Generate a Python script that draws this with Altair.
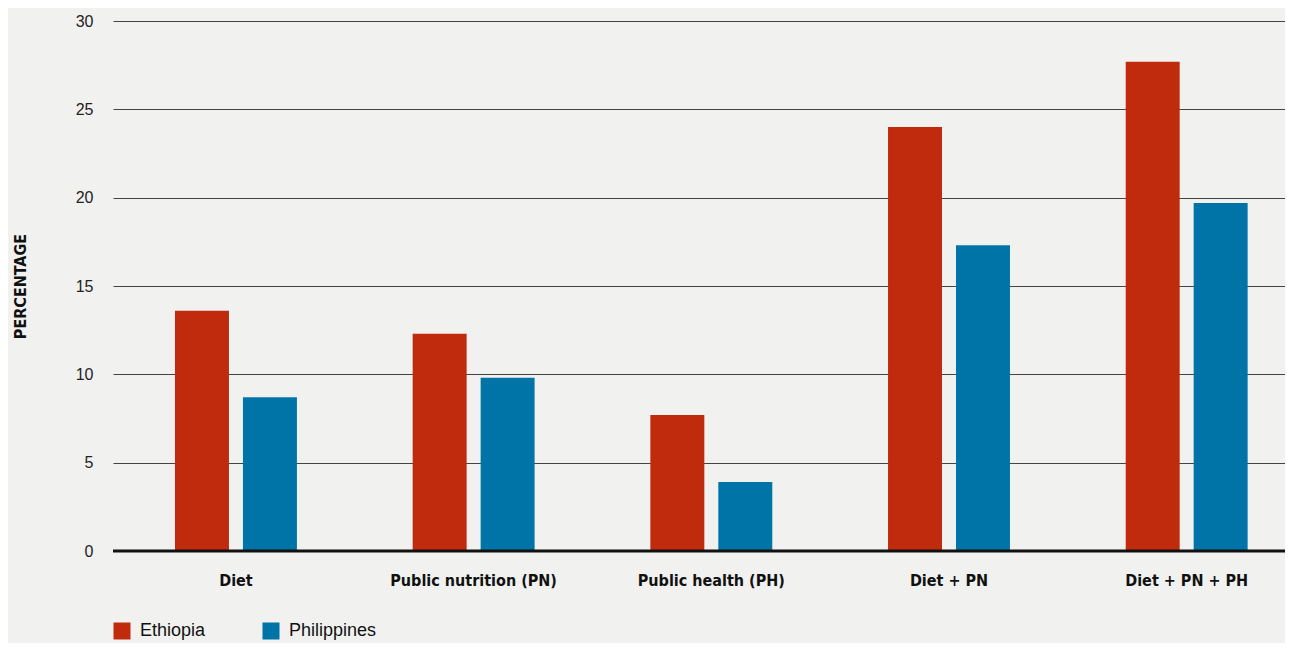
import altair as alt
import pandas as pd

categories = ["Diet", "Public nutrition (PN)", "Public health (PH)", "Diet + PN", "Diet + PN + PH"]
ethiopia = [13.6, 12.3, 7.7, 24.0, 27.7]
philippines = [8.7, 9.8, 3.9, 17.3, 19.7]
series = ["Ethiopia", "Philippines"]
colors = ["#C02B0E", "#0074A7"]
y_ticks = [0, 5, 10, 15, 20, 25, 30]

rows = []
for c, e, p in zip(categories, ethiopia, philippines):
    rows.append({"category": c, "country": "Ethiopia", "value": e})
    rows.append({"category": c, "country": "Philippines", "value": p})
df = pd.DataFrame(rows)

FONT = "Liberation Sans Narrow, sans-serif"
BOLD = "DejaVu Sans Condensed, sans-serif"

bars = alt.Chart(df).mark_bar().encode(
    x=alt.X(
        "category:N",
        sort=categories,
        scale=alt.Scale(paddingInner=0.487, paddingOuter=0.209, align=0.624),
        axis=alt.Axis(
            title=None, labelAngle=0, ticks=False, domain=False, grid=False,
            labelPadding=21, labelFontSize=16, labelFontWeight="bold",
            labelColor="#111111", labelFont=BOLD, labelBaseline="top",
        ),
    ),
    xOffset=alt.XOffset("country:N", sort=series, scale=alt.Scale(paddingInner=0.206)),
    y=alt.Y(
        "value:Q",
        scale=alt.Scale(domain=[0, 30], nice=False),
        axis=alt.Axis(
            values=y_ticks, title="PERCENTAGE", ticks=False, domain=False,
            grid=True, gridColor="#444444", gridWidth=1,
            labelFont=FONT, labelFontSize=16, labelColor="#222222", labelPadding=20,
            titleFont=BOLD, titleFontSize=16, titleFontWeight="bold", titleColor="#111111",
            titleAngle=270, titleX=-93, titleY=265, titleAlign="center", titleBaseline="middle",
        ),
    ),
    color=alt.Color(
        "country:N",
        scale=alt.Scale(domain=series, range=colors),
        legend=alt.Legend(
            title=None, orient="none", legendX=0, legendY=601, direction="horizontal",
            symbolType="square", symbolSize=289, symbolStrokeWidth=0, symbolOpacity=1,
            labelFont=FONT, labelFontSize=18, labelColor="#111111", labelOffset=9,
            columnPadding=56,
        ),
    ),
)

zero = alt.Chart(pd.DataFrame({"y": [0]})).mark_rule(color="#111111", strokeWidth=3).encode(
    y="y:Q"
)

chart = alt.layer(bars, zero).properties(
    width=1172,
    height=530,
    autosize="none",
    padding={"left": 105, "top": 13, "right": 0, "bottom": 92},
).configure(background="#F1F1F0").configure_view(stroke=None)

chart.save("out.html", embed_options={"renderer": "svg", "actions": False})
